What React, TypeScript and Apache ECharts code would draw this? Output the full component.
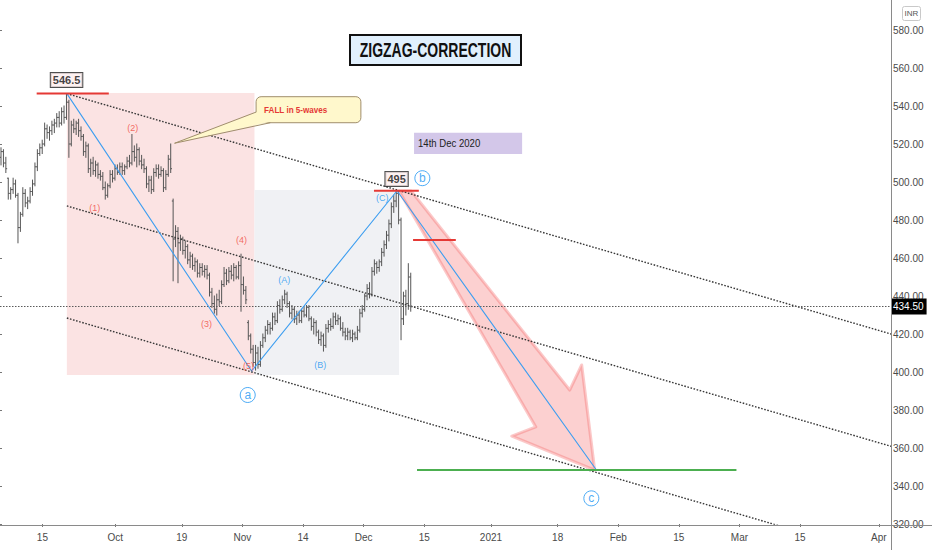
import React, { useEffect, useRef } from 'react';
import * as echarts from 'echarts';

const FONT = "'Liberation Sans', Arial, sans-serif";

// x axis: trading-day slots, tick labels and the slot they sit on
const dayCount = 148;
const dayLabels = ['15', 'Oct', '19', 'Nov', '14', 'Dec', '15', '2021', '18', 'Feb', '15', 'Mar', '15', 'Apr'];
const dayLabelIndex = [7, 19, 30, 40, 50, 60, 70, 81, 92, 102, 112, 122, 132, 145];

// y axis
const priceMin = 320;
const priceMax = 580;
const priceStep = 20;

// intraday bars [open, high, low, close]; bar j sits at day barStart + j * barStep
const barStart = 0.165;
const barStep = 0.4;
const ohlc: number[][] = [
  [513,518,509,516],[516,517,508,510],[510,513,505,507],[502,502,491,494],[494,497,491,496],
  [496,502,494,499],[499,501,492,493],[493,494,468,476],[476,484,474,483],[483,497,482,494],
  [494,496,487,489],[489,492,486,490],[490,497,489,495],[495,501,493,499],[499,510,498,508],
  [508,517,506,515],[515,520,514,518],[518,522,515,520],[520,531,519,528],[528,530,523,526],
  [526,529,522,527],[527,532,525,530],[530,533,526,531],[531,536,529,534],[534,537,529,531],
  [531,539,530,537],[537,540,531,534],[534,546.5,533,542],[542,543,513,520],[520,532,519,530],
  [530,533,526,528],[528,532,525,531],[531,533,524,527],[527,529,522,524],[524,525,514,516],
  [516,521,513,519],[519,520,505,507],[507,512,503,510],[510,513,504,506],[506,511,503,509],
  [509,510,502,504],[504,506,501,503],[503,505,496,497],[497,500,491,493],[493,499,492,498],
  [498,506,497,504],[504,506,500,502],[502,509,501,507],[507,509,504,505],[505,510,504,508],
  [508,510,504,506],[506,509,504,508],[508,513,507,511],[511,514,508,510],[510,525,509,516],
  [516,519,511,513],[513,520,508,517],[517,518,509,511],[511,514,507,509],[509,512,505,507],
  [507,508,497,499],[499,503,495,501],[501,503,494,496],[496,507,495,505],[505,509,503,507],
  [507,509,502,504],[504,508,503,506],[506,507,495,497],[497,506,496,504],[504,514,503,512],
  [512,520,505,507],[490,491,448,470],[470,477,466,474],[474,476,447,468],[468,472,464,470],
  [470,471,462,464],[464,469,460,466],[466,467,457,459],[459,463,455,461],[461,462,454,456],
  [456,460,453,458],[458,459,450,452],[452,457,450,455],[455,457,451,453],[453,456,450,454],
  [454,456,449,451],[451,452,440,442],[442,444,434,436],[436,440,431,433],[433,441,430,438],
  [438,443,435,437],[437,448,436,446],[446,455,445,452],[452,454,446,448],[448,455,447,453],
  [453,456,449,451],[451,457,448,455],[455,456,449,450],[450,458,449,456],[456,462,432,446],
  [446,450,441,443],[443,445,436,438],[426,427,417,419],[419,420,410,412],[412,414,403,405],
  [405,414,401,410],[410,413,402,404],[404,416,403,414],[414,420,413,418],[418,424,416,422],
  [422,427,420,425],[425,426,420,423],[423,431,422,429],[429,431,425,427],[427,437,426,435],
  [435,438,431,433],[433,440,432,438],[438,443,436,441],[441,442,434,436],[436,437,429,431],
  [431,435,428,433],[433,434,426,428],[428,432,425,430],[430,432,426,427],[427,433,426,432],
  [432,434,429,430],[430,435,429,434],[434,435,427,428],[428,429,422,424],[424,428,420,426],
  [426,427,419,421],[421,422,415,417],[417,421,414,419],[419,420,411,414],[414,425,413,423],
  [423,427,421,425],[425,428,422,424],[424,431,423,429],[429,431,425,427],[427,430,425,428],
  [428,429,422,423],[423,426,419,421],[421,423,417,419],[419,423,417,421],[421,422,417,418],
  [418,422,416,420],[420,421,417,418],[418,424,417,422],[422,433,421,431],[431,435,429,433],
  [433,441,432,440],[440,446,438,444],[444,447,439,441],[441,455,440,453],[453,459,451,457],
  [457,458,452,455],[455,459,453,458],[458,465,456,463],[463,469,461,467],[467,474,465,472],
  [472,480,469,478],[478,489,476,487],[487,493,484,490],[490,495.5,487,494],[494,495,478,480],
  [480,481,417,428],[428,442,425,440],[440,443,430,436],[436,457,433,450],[450,452,432,434.5],
];
const lastPrice = 434.5;

// drawings, in [day, price]
const channelLines = [
  [[11.03, 546.5], [147, 420]],
  [[11.03, 487.4], [147, 360.9]],
  [[11.03, 428.4], [147, 301.9]],
];
const zigzag = [[11.03, 546.5], [41.5, 400.5], [65.5, 495.4], [98.4, 348.4]];
const redLevels = [[6.05, 17.95, 546.6], [61.7, 69.1, 495.4], [68.15, 75.2, 469.5]];
const greenLevel = [68.8, 121.5, 348.4];
const zones = [
  [11.03, 546.8, 41.98, 398.4, '#fbe3e3'],
  [41.98, 495.8, 65.84, 398.4, '#f0f1f4'],
];
const arrowPts = [
  [65.84, 495.3], [67.82, 495.3], [93.99, 390.5], [95.97, 403.7],
  [98.11, 348.4], [84.44, 366.3], [88.4, 371.1],
];
const waveLabels: [string, number, number, string][] = [
  ['(1)', 15.64, 486.3, '#f04a3e'], ['(2)', 21.9, 528.4, '#f04a3e'], ['(3)', 34.07, 425.3, '#f04a3e'],
  ['(4)', 39.84, 469.5, '#f04a3e'], ['(5)', 40.99, 403.2, '#f04a3e'],
  ['(A)', 46.9, 448.4, '#2196f3'], ['(B)', 52.84, 403.7, '#2196f3'], ['(C)', 63.05, 491.6, '#2196f3'],
];
const circleLabels: [string, number, number][] = [['a', 40.87, 387.9], ['b', 69.68, 502], ['c', 97.56, 333.5]];
const priceTags: [string, number, number][] = [['546.5', 10.98, 553.7], ['495', 65.43, 501.6]];
const calloutBox = [42.25, 544.9, 59.54, 531.2];
const calloutTail = [[42.25, 536.8], [28.8, 520.4], [44.6, 531.2]];
const calloutText = 'FALL in 5-waves';
const dateBox = [68.31, 525.9, 86.14, 514.7];
const dateText = '14th Dec 2020';
const titleText = 'ZIGZAG-CORRECTION';

export default function App() {
  const ref = useRef<HTMLDivElement>(null);
  useEffect(() => {
    if (!ref.current) return;
    const chart = echarts.init(ref.current, undefined, { renderer: 'svg' });
    const categories = Array.from({ length: dayCount }, (_, i) => 'd' + i);
    const isLabel = (i: number) => dayLabelIndex.indexOf(i) >= 0;
    const dotted = { color: '#383838', width: 1.4, type: [1.6, 1.6] as number[] };

    const series: any[] = [
      {
        type: 'custom', xAxisIndex: 1, z: 1, silent: true,
        data: zones.map((z) => [z[0], z[1]]),
        renderItem: (params: any, api: any) => {
          const z = zones[params.dataIndex] as any[];
          const p0 = api.coord([z[0], z[1]]);
          const p1 = api.coord([z[2], z[3]]);
          return { type: 'rect', shape: { x: p0[0], y: p0[1], width: p1[0] - p0[0], height: p1[1] - p0[1] }, style: { fill: z[4] } };
        },
      },
      {
        type: 'custom', xAxisIndex: 1, z: 2, silent: true,
        data: [arrowPts[0]],
        renderItem: (_p: any, api: any) => ({
          type: 'polygon',
          shape: { points: arrowPts.map((p) => api.coord(p)) },
          style: { fill: 'rgba(244,100,100,0.3)', stroke: 'rgba(244,100,100,0.35)', lineWidth: 3, lineJoin: 'round' },
        }),
      },
      {
        type: 'custom', xAxisIndex: 1, z: 3, silent: true,
        encode: { x: 0, y: [1, 2, 3, 4] },
        data: ohlc.map((b, j) => [barStart + j * barStep, b[0], b[1], b[2], b[3]]),
        renderItem: (_p: any, api: any) => {
          const x = api.value(0);
          const pH = api.coord([x, api.value(2)]);
          const pL = api.coord([x, api.value(3)]);
          const pO = api.coord([x, api.value(1)]);
          const pC = api.coord([x, api.value(4)]);
          const st = { stroke: '#555555', lineWidth: 1 };
          return {
            type: 'group',
            children: [
              { type: 'line', shape: { x1: pH[0], y1: pH[1] - 0.5, x2: pL[0], y2: pL[1] + 0.5 }, style: st },
              { type: 'line', shape: { x1: pO[0] - 1.3, y1: pO[1], x2: pO[0], y2: pO[1] }, style: st },
              { type: 'line', shape: { x1: pC[0], y1: pC[1], x2: pC[0] + 1.3, y2: pC[1] }, style: st },
            ],
          };
        },
      },
      ...channelLines.map((l) => ({
        type: 'line', xAxisIndex: 1, z: 4, silent: true, showSymbol: false, symbol: 'none',
        data: l, lineStyle: dotted,
      })),
      {
        type: 'line', xAxisIndex: 1, z: 5, silent: true, showSymbol: false, symbol: 'none',
        data: zigzag, lineStyle: { color: '#3d9ef0', width: 1.1 },
        markLine: {
          silent: true, symbol: ['none', 'none'], animation: false,
          lineStyle: { color: '#5a5a5a', width: 1, type: [1.5, 1.5] },
          label: {
            show: true, position: 'end', distance: 0, formatter: lastPrice.toFixed(2),
            backgroundColor: '#000', color: '#fff', padding: [3, 3, 3, 2], fontSize: 10, fontFamily: FONT,
          },
          data: [{ yAxis: lastPrice }],
        },
      },
      ...redLevels.map((r) => ({
        type: 'line', xAxisIndex: 1, z: 6, silent: true, showSymbol: false, symbol: 'none',
        data: [[r[0], r[2]], [r[1], r[2]]], lineStyle: { color: '#e53935', width: 2 },
      })),
      {
        type: 'line', xAxisIndex: 1, z: 6, silent: true, showSymbol: false, symbol: 'none',
        data: [[greenLevel[0], greenLevel[2]], [greenLevel[1], greenLevel[2]]],
        lineStyle: { color: '#4caf50', width: 2 },
      },
      {
        type: 'custom', xAxisIndex: 1, z: 7, silent: true,
        data: [[calloutBox[0], calloutBox[1]]],
        renderItem: (_p: any, api: any) => {
          const b0 = api.coord([calloutBox[0], calloutBox[1]]);
          const b1 = api.coord([calloutBox[2], calloutBox[3]]);
          const t = calloutTail.map((p) => api.coord(p));
          const d0 = api.coord([dateBox[0], dateBox[1]]);
          const d1 = api.coord([dateBox[2], dateBox[3]]);
          return {
            type: 'group',
            children: [
              { type: 'rect', shape: { x: b0[0], y: b0[1], width: b1[0] - b0[0], height: b1[1] - b0[1], r: 5 }, style: { fill: '#fff8cc', stroke: '#a08e6c', lineWidth: 1 } },
              { type: 'polygon', shape: { points: [[t[0][0] + 1, t[0][1]], t[1], [t[2][0], t[2][1] - 1]] }, style: { fill: '#fff8cc' } },
              { type: 'polyline', shape: { points: [t[0], t[1], t[2]] }, style: { stroke: '#a08e6c', lineWidth: 1, fill: null } },
              { type: 'text', x: b0[0] + 8, y: (b0[1] + b1[1]) / 2, scaleX: 0.9, style: { text: calloutText, fill: '#e53935', fontSize: 9, fontWeight: 'bold', fontFamily: FONT, verticalAlign: 'middle', align: 'left' } },
              { type: 'rect', shape: { x: d0[0], y: d0[1], width: d1[0] - d0[0], height: d1[1] - d0[1] }, style: { fill: '#d3c7e9' } },
              { type: 'text', x: d0[0] + 4, y: (d0[1] + d1[1]) / 2, scaleX: 0.87, style: { text: dateText, fill: '#222', fontSize: 11, fontFamily: FONT, verticalAlign: 'middle', align: 'left' } },
            ],
          };
        },
      },
      {
        type: 'scatter', xAxisIndex: 1, z: 8, silent: true, symbolSize: 1,
        itemStyle: { color: 'rgba(0,0,0,0)' },
        data: waveLabels.map((w) => ({
          value: [w[1], w[2]],
          label: { show: true, position: 'inside', formatter: w[0], color: w[3], fontSize: 9, fontFamily: FONT },
        })),
      },
      {
        type: 'scatter', xAxisIndex: 1, z: 8, silent: true, symbol: 'circle', symbolSize: 15,
        itemStyle: { color: '#fff', borderColor: '#2196f3', borderWidth: 1 },
        data: circleLabels.map((c) => ({
          value: [c[1], c[2]],
          label: { show: true, position: 'inside', formatter: c[0], color: '#2196f3', fontSize: 12, fontFamily: FONT },
        })),
      },
      {
        type: 'scatter', xAxisIndex: 1, z: 9, silent: true, symbolSize: 1,
        itemStyle: { color: 'rgba(0,0,0,0)' },
        data: priceTags.map((p) => ({
          value: [p[1], p[2]],
          label: {
            show: true, position: 'inside', formatter: p[0], color: '#111', fontSize: 11, fontWeight: 'bold', fontFamily: FONT,
            backgroundColor: '#fdeeee', borderColor: '#222', borderWidth: 1, padding: [2, 2, 1, 2],
          },
        })),
      },
    ];

    chart.setOption({
      animation: false,
      backgroundColor: '#ffffff',
      textStyle: { fontFamily: FONT },
      grid: { left: 0, right: 41, top: 30, bottom: 26, containLabel: false },
      xAxis: [
        {
          type: 'category', data: categories, boundaryGap: false, position: 'bottom',
          axisLine: { show: false },
          axisTick: { show: true, interval: (i: number) => isLabel(i), length: 3, lineStyle: { color: '#777' } },
          axisLabel: {
            show: true, interval: (i: number) => isLabel(i), margin: 8, color: '#4a4a4a', fontSize: 10, fontFamily: FONT,
            formatter: (_v: string, i: number) => { const k = dayLabelIndex.indexOf(i); return k >= 0 ? dayLabels[k] : ''; },
          },
          splitLine: { show: false },
        },
        { type: 'value', min: 0, max: dayCount - 1, show: false },
      ],
      yAxis: {
        type: 'value', position: 'right', min: priceMin, max: priceMax, interval: priceStep,
        axisLine: { show: false },
        axisTick: { show: true, length: 2, lineStyle: { color: '#777' } },
        axisLabel: { margin: 2, color: '#4a4a4a', fontSize: 10, fontFamily: FONT, formatter: (v: number) => v.toFixed(2) },
        splitLine: { show: false },
      },
      graphic: [
        { type: 'line', shape: { x1: 891.5, y1: 0, x2: 891.5, y2: 550 }, style: { stroke: '#8a8a8a', lineWidth: 1 }, z: 20 },
        { type: 'line', shape: { x1: 0, y1: 525.5, x2: 932, y2: 525.5 }, style: { stroke: '#8a8a8a', lineWidth: 1 }, z: 20 },
        { type: 'rect', shape: { x: 902.5, y: 6.5, width: 18, height: 14, r: 2 }, style: { fill: '#fff', stroke: '#c9c9c9', lineWidth: 1 }, z: 20 },
        { type: 'text', x: 911.5, y: 13.5, style: { text: 'INR', fill: '#555', fontSize: 8, fontFamily: FONT, align: 'center', verticalAlign: 'middle' }, z: 21 },
        { type: 'rect', shape: { x: 350, y: 35, width: 171, height: 30 }, style: { fill: '#e1f0fd', stroke: '#111', lineWidth: 2 }, z: 20 },
        { type: 'text', x: 435.5, y: 50.5, scaleX: 0.7, style: { text: titleText, fill: '#111', fontSize: 20, fontWeight: 'bold', fontFamily: FONT, align: 'center', verticalAlign: 'middle' }, z: 21 },
      ],
      series,
    });
    return () => chart.dispose();
  }, []);
  return <div ref={ref} style={{ position: 'fixed', left: 0, top: 0, width: 932, height: 550 }} />;
}
